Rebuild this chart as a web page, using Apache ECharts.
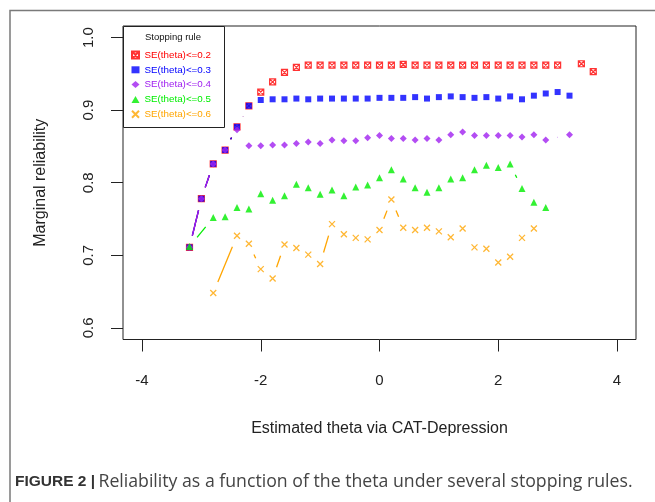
<!DOCTYPE html>
<html>
<head>
<meta charset="utf-8">
<script src="https://cdn.jsdelivr.net/npm/echarts@6/dist/echarts.min.js"></script>
<style>
  html, body { margin: 0; padding: 0; background: #fff; }
  #chart { width: 655px; height: 502px; }
</style>
</head>
<body>
<div id="chart"></div>
<script>
// stopping rules (legend names) and colours
var ruleNames = ['SE(theta)<=0.2', 'SE(theta)<=0.3', 'SE(theta)<=0.4', 'SE(theta)<=0.5', 'SE(theta)<=0.6'];

// SE <= 0.2
var theta02 = [-3.2,-3.0,-2.8,-2.6,-2.4,-2.2,-2.0,-1.8,-1.6,-1.4,-1.2,-1.0,-0.8,-0.6,-0.4,-0.2,0.0,0.2,0.4,0.6,0.8,1.0,1.2,1.4,1.6,1.8,2.0,2.2,2.4,2.6,2.8,3.0,3.4,3.6];
var rel02   = [0.711,0.778,0.826,0.845,0.877,0.906,0.925,0.939,0.952,0.959,0.962,0.962,0.962,0.962,0.962,0.962,0.962,0.962,0.963,0.962,0.962,0.962,0.962,0.962,0.962,0.962,0.962,0.962,0.962,0.962,0.962,0.962,0.964,0.953];
// SE <= 0.3
var theta03 = [-3.2,-3.0,-2.8,-2.6,-2.4,-2.2,-2.0,-1.8,-1.6,-1.4,-1.2,-1.0,-0.8,-0.6,-0.4,-0.2,0.0,0.2,0.4,0.6,0.8,1.0,1.2,1.4,1.6,1.8,2.0,2.2,2.4,2.6,2.8,3.0,3.2];
var rel03   = [0.711,0.778,0.826,0.845,0.877,0.906,0.914,0.915,0.915,0.916,0.915,0.916,0.916,0.916,0.916,0.916,0.917,0.917,0.917,0.918,0.916,0.918,0.919,0.918,0.917,0.918,0.916,0.919,0.915,0.920,0.923,0.925,0.920];
// SE <= 0.4
var theta04 = [-3.2,-3.0,-2.8,-2.6,-2.4,-2.2,-2.0,-1.8,-1.6,-1.4,-1.2,-1.0,-0.8,-0.6,-0.4,-0.2,0.0,0.2,0.4,0.6,0.8,1.0,1.2,1.4,1.6,1.8,2.0,2.2,2.4,2.6,2.8,3.2];
var rel04   = [0.711,0.778,0.826,0.845,0.873,0.851,0.851,0.852,0.852,0.854,0.856,0.854,0.859,0.858,0.858,0.862,0.865,0.861,0.861,0.859,0.861,0.859,0.866,0.870,0.865,0.865,0.865,0.865,0.863,0.866,0.859,0.866];
// SE <= 0.5
var theta05 = [-3.2,-2.8,-2.6,-2.4,-2.2,-2.0,-1.8,-1.6,-1.4,-1.2,-1.0,-0.8,-0.6,-0.4,-0.2,0.0,0.2,0.4,0.6,0.8,1.0,1.2,1.4,1.6,1.8,2.0,2.2,2.4,2.6,2.8];
var rel05   = [0.712,0.752,0.753,0.766,0.764,0.785,0.776,0.782,0.798,0.793,0.784,0.790,0.782,0.794,0.797,0.807,0.818,0.805,0.793,0.787,0.793,0.805,0.807,0.818,0.824,0.821,0.826,0.792,0.773,0.766];
// SE <= 0.6
var theta06 = [-2.8,-2.4,-2.2,-2.0,-1.8,-1.6,-1.4,-1.2,-1.0,-0.8,-0.6,-0.4,-0.2,0.0,0.2,0.4,0.6,0.8,1.0,1.2,1.4,1.6,1.8,2.0,2.2,2.4,2.6];
var rel06   = [0.648,0.727,0.716,0.681,0.668,0.715,0.710,0.701,0.688,0.743,0.729,0.724,0.722,0.735,0.777,0.738,0.735,0.738,0.733,0.725,0.737,0.711,0.709,0.690,0.698,0.724,0.737];

// axis ticks
var xTicks = [-4, -2, 0, 2, 4];
var yTicks = [0.6, 0.7, 0.8, 0.9, 1.0];

var colors = ['#ff0000', '#0000ff', '#a020f0', '#00ee00', '#ffa500'];
var GAP = 12; // type "b": lines stop short of the points
var FONT = '"Liberation Sans", Arial, sans-serif';

var thetas = [theta02, theta03, theta04, theta05, theta06];
var rels = [rel02, rel03, rel04, rel05, rel06];

var markers = [
  { symbol: 'path://M0,0H10V10H0ZM0,0L10,10M10,0L0,10', size: 6, fill: 'rgba(0,0,0,0)', bw: 1.2 },
  { symbol: 'rect', size: 6, fill: colors[1], bw: 0 },
  { symbol: 'diamond', size: 7, fill: colors[2], bw: 0 },
  { symbol: 'triangle', size: 7, fill: colors[3], bw: 0 },
  { symbol: 'path://M0,0L10,10M10,0L0,10', size: 6, fill: 'rgba(0,0,0,0)', bw: 1.3 }
];

function segRender(color) {
  return function (params, api) {
    var p1 = api.coord([api.value(0), api.value(1)]);
    var p2 = api.coord([api.value(2), api.value(3)]);
    var dx = p2[0] - p1[0], dy = p2[1] - p1[1];
    var len = Math.sqrt(dx * dx + dy * dy);
    if (len <= 2 * GAP) return { type: 'group', children: [] };
    var ux = dx / len, uy = dy / len;
    return {
      type: 'line',
      shape: { x1: p1[0] + ux * GAP, y1: p1[1] + uy * GAP, x2: p2[0] - ux * GAP, y2: p2[1] - uy * GAP },
      style: { stroke: color, lineWidth: 1.3 }
    };
  };
}

var series = [];
for (var i = 0; i < ruleNames.length; i++) {
  var pts = [], segs = [];
  for (var j = 0; j < thetas[i].length; j++) {
    pts.push([thetas[i][j], rels[i][j]]);
    if (j > 0) segs.push([thetas[i][j - 1], rels[i][j - 1], thetas[i][j], rels[i][j]]);
  }
  series.push({
    type: 'custom',
    renderItem: segRender(colors[i]),
    encode: { x: [0, 2], y: [1, 3] },
    data: segs,
    z: 2 + i * 2,
    silent: true
  });
  series.push({
    name: ruleNames[i],
    type: 'scatter',
    symbol: markers[i].symbol,
    symbolSize: markers[i].size,
    itemStyle: { color: markers[i].fill, borderColor: colors[i], borderWidth: markers[i].bw },
    emphasis: { disabled: true },
    data: pts,
    z: 3 + i * 2
  });
}

var chart = echarts.init(document.getElementById('chart'));
chart.setOption({
  animation: false,
  backgroundColor: '#fff',
  grid: {
    left: 123, top: 26, right: 19, bottom: 162.5,
    show: true, borderColor: '#222', borderWidth: 1, backgroundColor: 'transparent'
  },
  xAxis: {
    type: 'value', min: -4.32, max: 4.32,
    name: 'Estimated theta via CAT-Depression',
    nameLocation: 'middle', nameGap: 81,
    nameTextStyle: { fontFamily: FONT, fontSize: 16, color: '#222' },
    axisLine: { show: false, onZero: false },
    splitLine: { show: false },
    axisTick: { show: true, inside: false, length: 12, lineStyle: { color: '#222' }, customValues: xTicks },
    axisLabel: { customValues: xTicks, margin: 34, fontFamily: FONT, fontSize: 15, color: '#222' }
  },
  yAxis: {
    type: 'value', min: 0.584, max: 1.016,
    name: 'Marginal reliability',
    nameLocation: 'middle', nameGap: 74,
    nameTextStyle: { fontFamily: FONT, fontSize: 16, color: '#222' },
    axisLine: { show: false, onZero: false },
    splitLine: { show: false },
    axisTick: { show: true, inside: false, length: 12, lineStyle: { color: '#222' }, customValues: yTicks },
    axisLabel: {
      customValues: yTicks, rotate: 90, margin: 27,
      fontFamily: FONT, fontSize: 15, color: '#222',
      formatter: function (v) { return v.toFixed(1); }
    }
  },
  legend: {
    orient: 'vertical', left: 131, top: 50,
    itemWidth: 8, itemHeight: 7, itemGap: 4.8, padding: 0,
    selectedMode: false, z: 10,
    textStyle: { fontFamily: FONT, fontSize: 9.8, lineHeight: 10 },
    data: ruleNames.map(function (n, k) { return { name: n, textStyle: { color: colors[k] } }; })
  },
  graphic: [
    { type: 'rect', left: 7.5, top: 8, z: -10, silent: true,
      shape: { width: 700, height: 600 },
      style: { fill: 'none', stroke: '#7a7a7a', lineWidth: 1.5 } },
    { type: 'rect', left: 123, top: 26, z: 8, silent: true,
      shape: { width: 101, height: 101 },
      style: { fill: '#fff', stroke: '#222', lineWidth: 1 } },
    { type: 'text', x: 173, y: 37, z: 9, silent: true,
      style: { text: 'Stopping rule', fontFamily: FONT, fontSize: 9.5, fill: '#111', align: 'center', verticalAlign: 'middle' } },
    { type: 'text', x: 15, y: 482, z: 9, silent: true,
      style: {
        text: '{b|FIGURE 2 |} {n|Reliability as a function of the theta under several stopping rules.}',
        verticalAlign: 'middle',
        rich: {
          b: { fontFamily: FONT, fontSize: 15.5, fontWeight: 'bold', fill: '#333' },
          n: { fontFamily: '"Open Sans", ' + FONT, fontSize: 17.7, fill: '#444' }
        }
      } }
  ],
  series: series
});
</script>
</body>
</html>
